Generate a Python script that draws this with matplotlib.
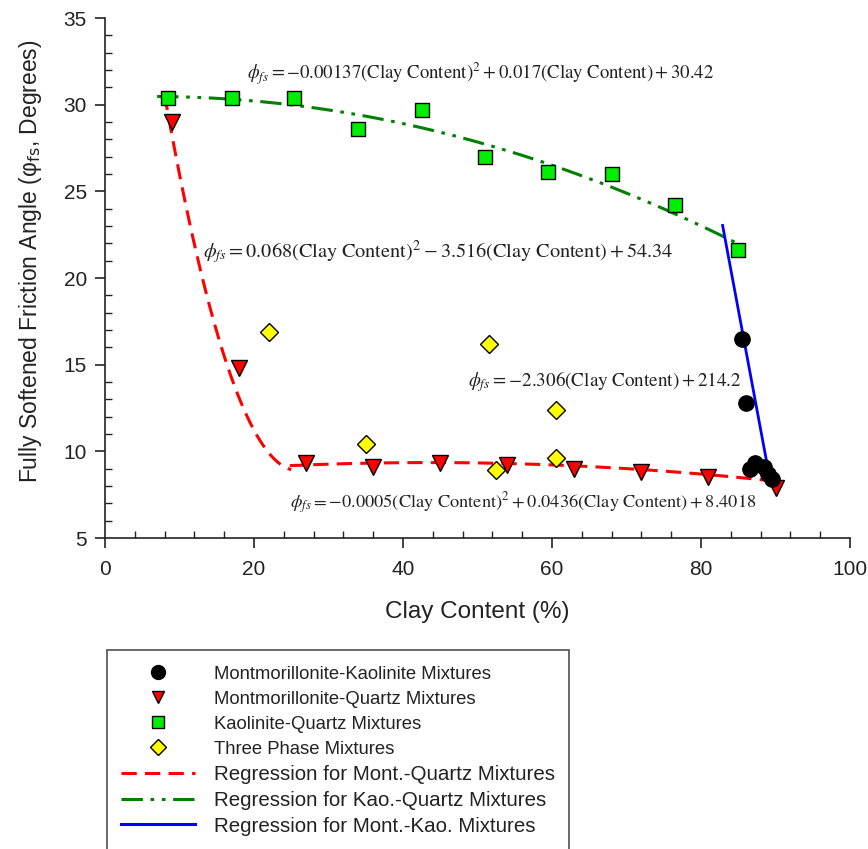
import numpy as np
import matplotlib
matplotlib.use("Agg")
import matplotlib.pyplot as plt
from matplotlib.ticker import MultipleLocator
from matplotlib.lines import Line2D

plt.rcParams['font.family'] = ['Liberation Sans', 'DejaVu Sans']

# Data (clay content %, friction angle deg)
mk_x = [85.5, 86.0, 86.6, 87.2, 88.4, 89.0, 89.5]
mk_y = [16.5, 12.8, 9.0, 9.3, 9.1, 8.7, 8.4]

mq_x = [9.0, 18.0, 27.0, 36.0, 45.0, 54.0, 63.0, 72.0, 81.0, 90.0]
mq_y = [29.0, 14.8, 9.3, 9.1, 9.3, 9.2, 9.0, 8.8, 8.5, 7.9]

kq_x = [8.5, 17.0, 25.4, 34.0, 42.5, 51.0, 59.5, 68.0, 76.5, 85.0]
kq_y = [30.4, 30.4, 30.4, 28.6, 29.7, 27.0, 26.1, 26.0, 24.2, 21.6]

tp_x = [22.0, 35.0, 51.5, 52.5, 60.5, 60.5]
tp_y = [16.9, 10.4, 16.2, 8.9, 12.4, 9.6]

# Regression coefficients (highest power first) and x ranges, as printed on the chart
kq_coef = [-0.00137, 0.017, 30.42]
kq_range = [7.0, 85.0]
mq1_coef = [0.068, -3.516, 54.34]
mq1_range = [8.0, 25.0]
mq2_coef = [-0.0005, 0.0436, 8.4018]
mq2_range = [24.8, 91.0]
mk_coef = [-2.306, 214.2]
mk_range = [82.9, 89.0]

red_dash = [5, 2.7]
green_dash = [7, 2.5, 1.2, 2.5, 1.2, 2.5]

fig = plt.figure(figsize=(8.68, 8.49), dpi=100)
ax = fig.add_axes([105 / 868, 1 - 538 / 849, 745 / 868, 520 / 849])

# regression curves
xs = np.linspace(*kq_range, 200)
ax.plot(xs, np.polyval(kq_coef, xs), color='#008000', lw=2.2, dashes=green_dash, zorder=2)
xs = np.linspace(*mq1_range, 200)
ax.plot(xs, np.polyval(mq1_coef, xs), color='red', lw=2.2, dashes=red_dash, zorder=2)
xs = np.linspace(*mq2_range, 200)
ax.plot(xs, np.polyval(mq2_coef, xs), color='red', lw=2.2, dashes=red_dash, zorder=2)
xs = np.linspace(*mk_range, 50)
ax.plot(xs, np.polyval(mk_coef, xs), color='blue', lw=2.0, zorder=2)

# data points
ax.plot(mq_x, mq_y, 'v', ms=11, mfc='red', mec='black', mew=1.0, ls='none', zorder=3)
ax.plot(kq_x, kq_y, 's', ms=10, mfc='#00ee00', mec='black', mew=1.0, ls='none', zorder=3)
ax.plot(tp_x, tp_y, 'D', ms=9, mfc='yellow', mec='black', mew=1.0, ls='none', zorder=3)
ax.plot(mk_x, mk_y, 'o', ms=11, mfc='black', mec='black', ls='none', zorder=3)

# equations
eq_kw = dict(family='Liberation Serif', math_fontfamily='stix', color='#222222', va='center')
ax.text(19.1, 31.77, r'$\phi_{fs} = -0.00137(\mathrm{Clay\ Content})^2 + 0.017(\mathrm{Clay\ Content}) + 30.42$',
        fontsize=13.5, **eq_kw)
ax.text(13.2, 21.5, r'$\phi_{fs} = 0.068(\mathrm{Clay\ Content})^2 - 3.516(\mathrm{Clay\ Content}) + 54.34$',
        fontsize=14.6, **eq_kw)
ax.text(48.7, 14.05, r'$\phi_{fs} = -2.306(\mathrm{Clay\ Content}) + 214.2$',
        fontsize=13.75, **eq_kw)
ax.text(24.8, 7.01, r'$\phi_{fs} = -0.0005(\mathrm{Clay\ Content})^2 + 0.0436(\mathrm{Clay\ Content}) + 8.4018$',
        fontsize=13.2, **eq_kw)

ax.set_xlim(0, 100)
ax.set_ylim(5, 35)
ax.xaxis.set_major_locator(MultipleLocator(20))
ax.xaxis.set_minor_locator(MultipleLocator(4))
ax.yaxis.set_major_locator(MultipleLocator(5))
ax.yaxis.set_minor_locator(MultipleLocator(1))
ax.tick_params(which='major', direction='out', length=7, width=1.2, labelsize=15, colors='#222222')
ax.tick_params(axis='x', which='major', pad=9)
ax.tick_params(axis='y', which='major', pad=6)
ax.tick_params(which='minor', direction='in', length=5, width=1.0, colors='#222222')
for s in ['top', 'right']:
    ax.spines[s].set_visible(False)
for s in ['left', 'bottom']:
    ax.spines[s].set_linewidth(1.2)
    ax.spines[s].set_color('#222222')

ax.set_xlabel('Clay Content (%)', fontsize=17.5, color='#222222')
ax.xaxis.set_label_coords(0.5, -0.121)
ax.set_ylabel(r'Fully Softened Friction Angle (φ$_{\mathrm{fs}}$, Degrees)', fontsize=16.5,
              color='#222222', math_fontfamily='dejavusans')
ax.yaxis.set_label_coords(-0.082, 0.533)

# legend
handles = [
    Line2D([], [], marker='o', ls='none', ms=10, mfc='black', mec='black'),
    Line2D([], [], marker='v', ls='none', ms=9, mfc='red', mec='black'),
    Line2D([], [], marker='s', ls='none', ms=8, mfc='#00ee00', mec='black'),
    Line2D([], [], marker='D', ls='none', ms=8, mfc='yellow', mec='black'),
    Line2D([], [], color='red', lw=2.2, dashes=red_dash),
    Line2D([], [], color='#008000', lw=2.2, dashes=green_dash),
    Line2D([], [], color='blue', lw=2.2),
]
labels = ['Montmorillonite-Kaolinite Mixtures', 'Montmorillonite-Quartz Mixtures',
          'Kaolinite-Quartz Mixtures', 'Three Phase Mixtures',
          'Regression for Mont.-Quartz Mixtures', 'Regression for Kao.-Quartz Mixtures',
          'Regression for Mont.-Kao. Mixtures']
leg = fig.legend(handles, labels, loc='upper left', bbox_to_anchor=(107 / 868, 1 - 650 / 849),
                 fontsize=14.8, frameon=True, fancybox=False, edgecolor='#222222',
                 handlelength=3.6, handletextpad=0.9, labelspacing=0.33, borderpad=0.7,
                 borderaxespad=0)
leg.get_frame().set_linewidth(1.2)
for t in leg.get_texts()[:4]:
    t.set_fontsize(13.3)
for t in leg.get_texts():
    t.set_color('#222222')

fig.savefig('out.png', dpi=100)
